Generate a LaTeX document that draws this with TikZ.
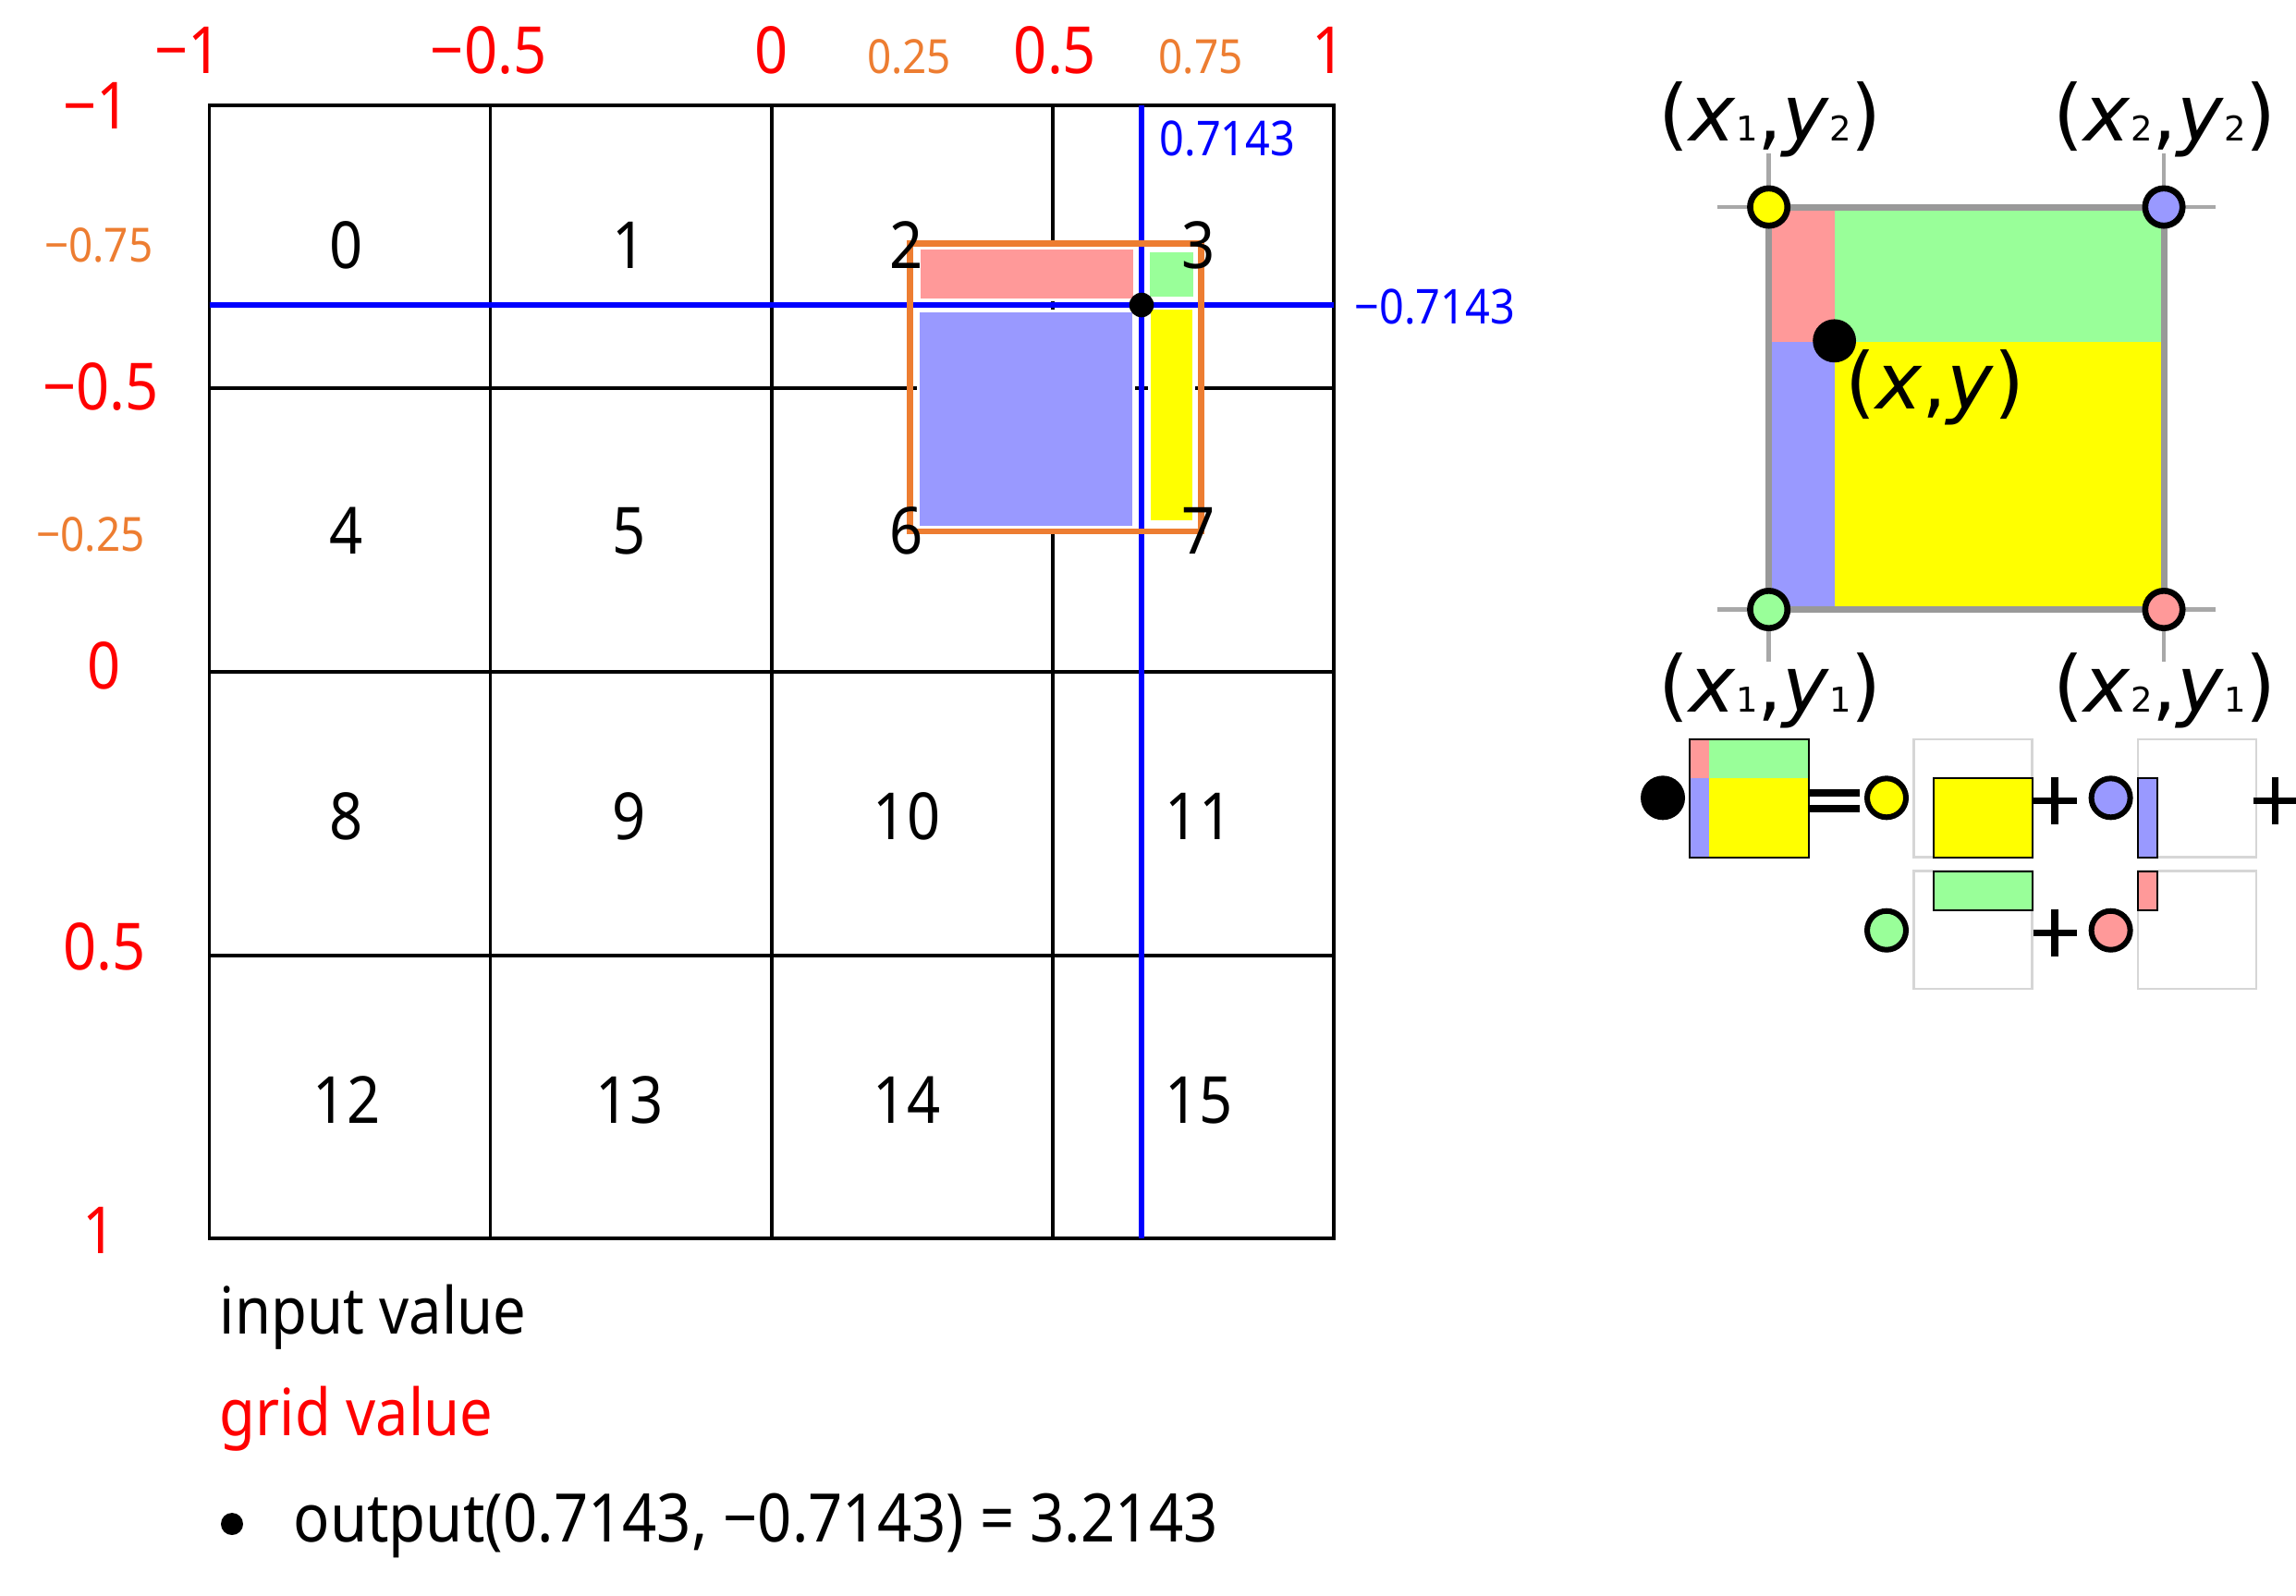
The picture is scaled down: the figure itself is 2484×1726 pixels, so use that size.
\documentclass[tikz,border=0pt]{standalone}
\usepackage{fontspec}
\setmainfont{Noto Sans}[FakeStretch=0.9]
\newfontfamily\panelfont{DejaVu Sans}
\usepackage{xcolor}
\usepackage{tikz}
\definecolor{gridred}{HTML}{FF0000}
\definecolor{gridorange}{HTML}{ED7D31}
\definecolor{inblue}{HTML}{0000FF}
\definecolor{wpink}{HTML}{FF9999}
\definecolor{wgreen}{HTML}{99FF99}
\definecolor{wblue}{HTML}{9999FF}
\definecolor{wyellow}{HTML}{FFFF00}
\definecolor{panelgray}{HTML}{999999}
\definecolor{crossgray}{HTML}{A8A8A8}
\definecolor{ghostgray}{HTML}{D6D6D6}
\newcommand{\subidx}[1]{{\fontsize{10.5}{10.5}\selectfont #1}}
\newcommand{\xylbl}[2]{(\textit{x}\subidx{#1},\textit{y}\subidx{#2})}

\begin{document}
\begin{tikzpicture}[x=0.1mm,y=-0.1mm,
    cellnum/.style={anchor=base,inner sep=0pt,font=\fontsize{20}{24}\selectfont},
    redlbl/.style={anchor=base,inner sep=0pt,text=gridred,font=\fontsize{20}{24}\selectfont},
    orglbl/.style={anchor=base,inner sep=0pt,text=gridorange,font=\fontsize{14.5}{17}\selectfont},
    bluelbl/.style={anchor=base west,inner sep=0pt,text=inblue,font=\fontsize{14.8}{17}\selectfont},
    textlbl/.style={anchor=base west,inner sep=0pt,font=\fontsize{20}{24}\selectfont},
    gridline/.style={line width=0.35mm},
    sampleline/.style={inblue,line width=0.67mm},
    wpatch/.style={draw=white,line width=0.3mm},
    cornerdot/.style={draw=black,line width=0.66mm},
    termdot/.style={draw=black,line width=0.6mm},
    crossline/.style={crossgray,line width=0.47mm},
    xylabel/.style={anchor=base,inner sep=0pt,font=\panelfont\fontsize{24}{28}\selectfont},
    ghostbox/.style={draw=ghostgray,line width=0.25mm},
    termbox/.style={draw=black,line width=0.2mm},
    plusbar/.style={line width=0.72mm}]
  \useasboundingbox (0,0) rectangle (2484,1726);

  % Grid of cells
  \draw[gridline] (226.5,114) rectangle (1443,1340);
  \foreach \x in {530.7,834.8,1139} \draw[gridline] (\x,114) -- (\x,1340);
  \foreach \y in {420,727,1034} \draw[gridline] (226.5,\y) -- (1443,\y);

  % Weight patches round the sample point
  \fill[wpink,wpatch] (994.3,268.3) rectangle (1227.7,324.3);
  \fill[wgreen,wpatch] (1242.3,271) rectangle (1292.7,322.3);
  \fill[wblue,wpatch] (993.3,336.7) rectangle (1226.7,570);
  \fill[wyellow,wpatch] (1243.3,333.3) rectangle (1291.7,564.3);

  % Input value lines
  \draw[sampleline] (1235,114) -- (1235,1340);
  \draw[sampleline] (226.5,330) -- (1443,330);

  % Neighbourhood of the sample
  \draw[gridorange,line width=0.67mm] (984.4,263.7) rectangle (1299.3,575);
  \fill (1235,330) circle (1.33mm);

  % Cell indices
  \foreach \r/\yb in {0/290,1/599,2/908,3/1215}
    \foreach \c/\xc in {0/375,1/681,2/981,3/1297} {
      \pgfmathtruncatemacro{\idx}{4*\r+\c}
      \node[cellnum] (cell\idx) at (\xc,\yb) {\idx};
    }

  % Grid values, top and left
  \foreach \x/\t [count=\i] in {203.5/−1,528.6/−0.5,834.5/0,1141.5/0.5,1438/1}
    \node[redlbl] (xval\i) at (\x,79) {\t};
  \node[orglbl] (xmid1) at (983.5,79) {0.25};
  \node[orglbl] (xmid2) at (1299,79) {0.75};
  \foreach \x/\y/\t [count=\i] in {104.5/139/−1,109/443.5/−0.5,113/745/0,112.7/1049/0.5,107.5/1356/1}
    \node[redlbl] (yval\i) at (\x,\y) {\t};
  \node[orglbl] (ymid1) at (106.7,283) {−0.75};
  \node[orglbl] (ymid2) at (98,596) {−0.25};

  % Input values
  \node[bluelbl] (inx) at (1254,168.3) {0.7143};
  \node[bluelbl] (iny) at (1465,350) {−0.7143};

  % Legend
  \node[textlbl] (inlegend) at (237,1443) {input value};
  \node[textlbl,text=gridred] (gridlegend) at (237,1553) {grid value};
  \fill (251,1649) circle (1.2mm);
  \node[textlbl,font=\fontsize{20.6}{24}\selectfont] (outlegend) at (317,1668) {output(0.7143, −0.7143) = 3.2143};

  % Bilinear panel
  \draw[crossline] (1857.5,224) -- (2397,224);
  \draw[crossline] (1857.5,659.5) -- (2397,659.5);
  \draw[crossline] (1913.6,166.4) -- (1913.6,715.5);
  \draw[crossline] (2341,166.4) -- (2341,715.5);
  \fill[wpink] (1913.6,224) rectangle (1984.6,369.7);
  \fill[wgreen] (1984.6,224) rectangle (2341,369.7);
  \fill[wblue] (1913.6,369.7) rectangle (1984.6,659.5);
  \fill[wyellow] (1984.6,369.7) rectangle (2341,659.5);
  \draw[panelgray,line width=0.7mm] (1913.6,224) rectangle (2341,659.5);
  \draw[cornerdot,fill=wyellow] (1913.6,224) circle (2.02mm);
  \draw[cornerdot,fill=wblue] (2341,224) circle (2.02mm);
  \draw[cornerdot,fill=wgreen] (1913.6,659.5) circle (2.02mm);
  \draw[cornerdot,fill=wpink] (2341,659.5) circle (2.02mm);
  \fill (1984.6,368.8) circle (2.34mm);
  \node[xylabel] (p12) at (1915,152.6) {\xylbl{1}{2}};
  \node[xylabel] (p22) at (2342,152.6) {\xylbl{2}{2}};
  \node[xylabel] (p11) at (1915,770.5) {\xylbl{1}{1}};
  \node[xylabel] (p21) at (2342,770.5) {\xylbl{2}{1}};
  \node[xylabel,anchor=base west] (pxy) at (1996,442.8) {(\textit{x},\textit{y})};

  % Weighted sum
  \fill (1799,863.3) circle (2.4mm);
  \fill[wpink] (1828,800) rectangle (1849,842.3);
  \fill[wgreen] (1849,800) rectangle (1956.5,842.3);
  \fill[wblue] (1828,842.3) rectangle (1849,928);
  \fill[wyellow] (1849,842.3) rectangle (1956.5,928);
  \draw[termbox] (1828,800) rectangle (1956.5,928);
  \draw[plusbar] (1958,858) -- (2012,858);
  \draw[plusbar] (1958,875) -- (2012,875);
  \foreach \bx/\by in {2070.5/800,2313/800,2070.5/942.7,2313/942.7}
    \draw[ghostbox] (\bx,\by) rectangle ++(128,127.5);
  \draw[termbox,fill=wyellow] (2092,841.7) rectangle (2198.6,928);
  \draw[termbox,fill=wblue] (2313,841.7) rectangle (2334,928);
  \draw[termbox,fill=wgreen] (2092,942.7) rectangle (2198.6,985.3);
  \draw[termbox,fill=wpink] (2313,942.7) rectangle (2334,985.3);
  \draw[termdot,fill=wyellow] (2041,863.3) circle (2.1mm);
  \draw[termdot,fill=wblue] (2283.6,863.3) circle (2.1mm);
  \draw[termdot,fill=wgreen] (2041,1006.7) circle (2.1mm);
  \draw[termdot,fill=wpink] (2283.6,1006.7) circle (2.1mm);
  \foreach \px/\py in {2223/866.7,2461.6/866.7,2223/1009.3}
    \draw[plusbar] (\px-23.5,\py) -- (\px+23.5,\py) (\px,\py-25.5) -- (\px,\py+25.5);
\end{tikzpicture}
\end{document}
